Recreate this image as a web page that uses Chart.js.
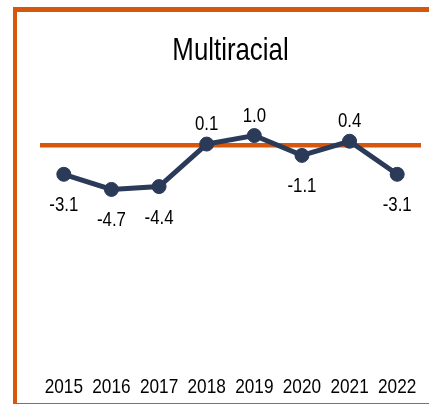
<!DOCTYPE html>
<html>
<head>
<meta charset="utf-8">
<script src="https://cdn.jsdelivr.net/npm/chart.js@4.4.0/dist/chart.umd.min.js"></script>
<style>
    body { margin: 0; background: #fff; overflow: hidden; }
    #frame {
        position: absolute; left: 13px; top: 7px; width: 440px; height: 391px;
        border-top: 5px solid #d6570b; border-left: 4px solid #d6570b; border-bottom: 4px solid #d6570b;
    }
    #wrap { position: absolute; left: 0; top: 0; width: 429px; height: 404px; }
</style>
</head>
<body>
<div id="frame"></div>
<div id="wrap"><canvas id="chart"></canvas></div>
<script>
// Data
const years = ['2015', '2016', '2017', '2018', '2019', '2020', '2021', '2022'];
const values = [-3.1, -4.7, -4.4, 0.1, 1.0, -1.1, 0.4, -3.1];
const chartTitle = 'Multiracial';

const ORANGE = '#d6570b';
const NAVY = '#2b3a58';
const FONT = "'Liberation Sans', Arial, sans-serif";
const NARROW = 0.82; // squeeze text to look like Arial Narrow

function narrowText(ctx, text, x, y) {
    ctx.save();
    ctx.translate(x, y);
    ctx.scale(NARROW, 1);
    ctx.fillText(text, 0, 0);
    ctx.restore();
}

// Title, x tick labels and value labels, all drawn condensed
const narrowLabels = {
    id: 'narrowLabels',
    afterDatasetsDraw(chart) {
        const ctx = chart.ctx;
        const area = chart.chartArea;
        const xScale = chart.scales.x;
        const meta = chart.getDatasetMeta(0);
        ctx.save();
        ctx.fillStyle = '#000';
        ctx.textAlign = 'center';
        ctx.textBaseline = 'alphabetic';

        ctx.font = '31.5px ' + FONT;
        narrowText(ctx, chartTitle, (area.left + area.right) / 2, 60);

        ctx.font = '21px ' + FONT;
        years.forEach((yr, i) => {
            narrowText(ctx, yr, xScale.getPixelForTick(i), 392.5);
        });

        ctx.font = '20.5px ' + FONT;
        meta.data.forEach((pt, i) => {
            const v = values[i];
            const y = v >= 0 ? pt.y - 14 : pt.y + 37;
            narrowText(ctx, v.toFixed(1), pt.x, y);
        });
        ctx.restore();
    }
};

new Chart(document.getElementById('chart'), {
    type: 'line',
    data: {
        labels: years,
        datasets: [{
            data: values,
            borderColor: NAVY,
            backgroundColor: NAVY,
            borderWidth: 5,
            pointRadius: 7,
            pointBorderWidth: 1,
            pointBackgroundColor: NAVY,
            pointBorderColor: NAVY,
            tension: 0
        }]
    },
    options: {
        responsive: true,
        maintainAspectRatio: false,
        animation: false,
        layout: { padding: { left: 40, right: 8, top: 80, bottom: 37.2 } },
        scales: {
            x: {
                offset: true,
                grid: { display: false, drawTicks: false },
                border: { display: false },
                ticks: { display: false }
            },
            y: {
                display: true,
                min: -23.47,
                max: 6.88,
                grid: {
                    drawTicks: false,
                    lineWidth: 4.5,
                    color: ctx => ctx.tick && ctx.tick.value === 0 ? ORANGE : 'rgba(0,0,0,0)'
                },
                border: { display: false },
                ticks: { display: false, stepSize: 1 }
            }
        },
        plugins: {
            legend: { display: false },
            tooltip: { enabled: false },
            title: { display: false }
        }
    },
    plugins: [narrowLabels]
});
</script>
</body>
</html>
